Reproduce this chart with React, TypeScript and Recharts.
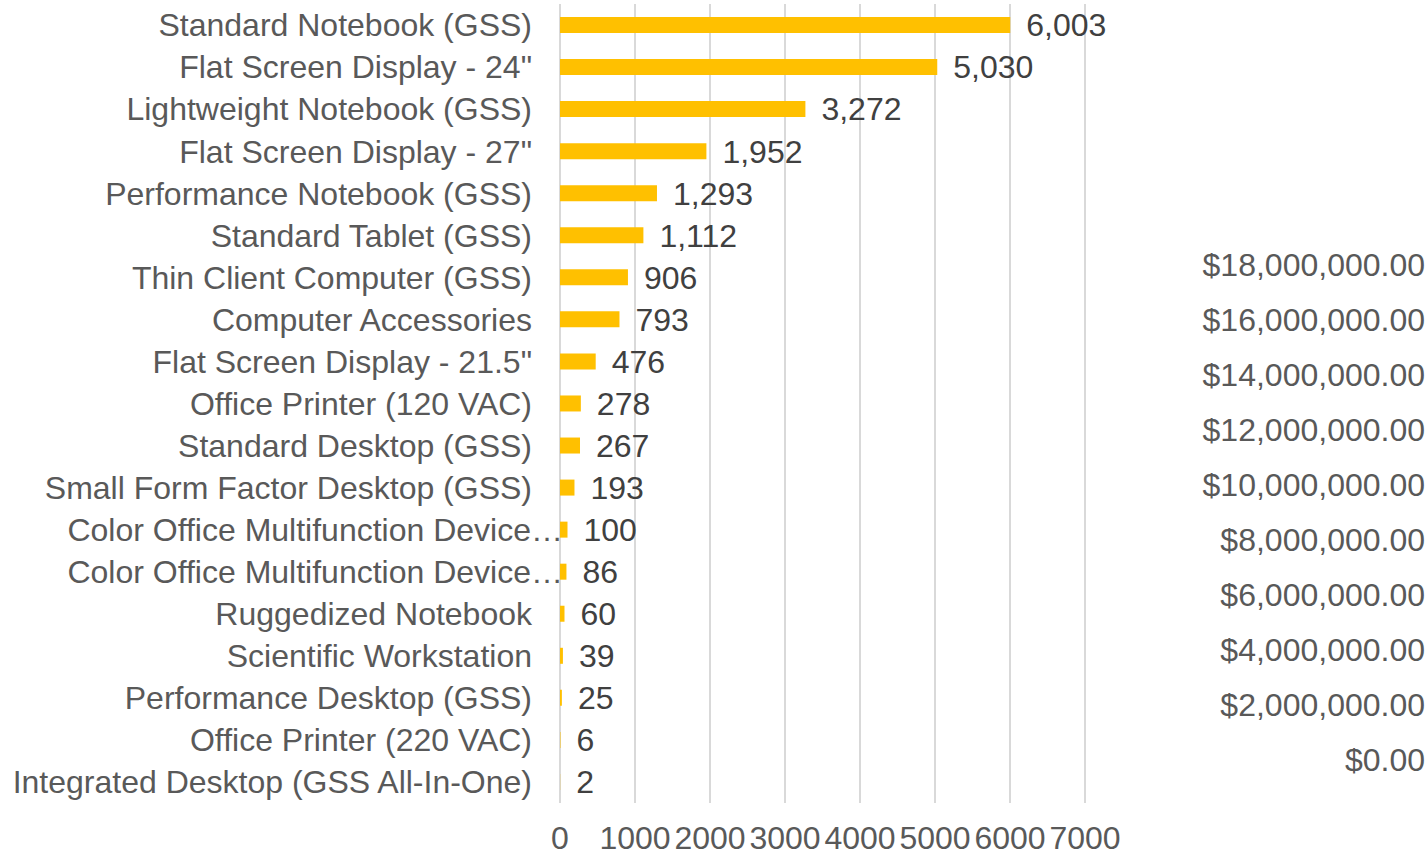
import {
  BarChart,
  Bar,
  LineChart,
  XAxis,
  YAxis,
  CartesianGrid,
  LabelList,
} from "recharts";

const products = [
  "Standard Notebook (GSS)",
  'Flat Screen Display - 24"',
  "Lightweight Notebook (GSS)",
  'Flat Screen Display - 27"',
  "Performance Notebook (GSS)",
  "Standard Tablet (GSS)",
  "Thin Client Computer (GSS)",
  "Computer Accessories",
  'Flat Screen Display - 21.5"',
  "Office Printer (120 VAC)",
  "Standard Desktop (GSS)",
  "Small Form Factor Desktop (GSS)",
  "Color Office Multifunction Device…",
  "Color Office Multifunction Device…",
  "Ruggedized Notebook",
  "Scientific Workstation",
  "Performance Desktop (GSS)",
  "Office Printer (220 VAC)",
  "Integrated Desktop (GSS All-In-One)",
];

const quantities = [
  6003, 5030, 3272, 1952, 1293, 1112, 906, 793, 476, 278, 267, 193, 100, 86,
  60, 39, 25, 6, 2,
];

const qtyTicks = [0, 1000, 2000, 3000, 4000, 5000, 6000, 7000];
const dollarTicks = [
  0, 2000000, 4000000, 6000000, 8000000, 10000000, 12000000, 14000000,
  16000000, 18000000,
];

const data = products.map((name, i) => ({ name, qty: quantities[i] }));

const W = 1428;
const H = 857;
const FONT = "'Liberation Sans', Arial, sans-serif";

const money = (v: number) =>
  "$" +
  v.toLocaleString("en-US", {
    minimumFractionDigits: 2,
    maximumFractionDigits: 2,
  });

function DollarTick(props: any) {
  const { y, payload } = props;
  return (
    <text
      x={W - 3}
      y={y}
      dy="0.355em"
      textAnchor="end"
      fill="#595959"
      fontSize={32}
      fontFamily={FONT}
    >
      {money(payload.value)}
    </text>
  );
}

// Excel lets the clipped labels run past the box, so nudge those right
function ProductTick(props: any) {
  const { x, y, payload } = props;
  const clipped = String(payload.value).endsWith("…");
  return (
    <text
      x={x + (clipped ? 31 : 0)}
      y={y}
      dy="0.355em"
      textAnchor="end"
      fill="#595959"
      fontSize={32}
      fontFamily={FONT}
    >
      {payload.value}
    </text>
  );
}

export default function App() {
  return (
    <div style={{ position: "absolute", left: 0, top: 0, width: W, height: H, background: "#fff" }}>
      <BarChart
        width={W}
        height={H}
        data={data}
        layout="vertical"
        margin={{ top: 4, right: 343, bottom: 0, left: 0 }}
        barCategoryGap={0}
        style={{ fontFamily: FONT }}
      >
        <CartesianGrid horizontal={false} stroke="#d9d9d9" strokeWidth={2} />
        <XAxis
          type="number"
          domain={[0, 7000]}
          ticks={qtyTicks}
          height={54}
          axisLine={false}
          tickLine={false}
          tickSize={0}
          tickMargin={23}
          interval={0}
          tick={{ fill: "#595959", fontSize: 32 }}
        />
        <YAxis
          type="category"
          dataKey="name"
          width={560}
          axisLine={false}
          tickLine={false}
          tickSize={0}
          tickMargin={28}
          interval={0}
          tick={<ProductTick />}
        />
        <Bar dataKey="qty" fill="#ffc000" barSize={16} isAnimationActive={false}>
          <LabelList
            dataKey="qty"
            position="right"
            offset={16}
            fill="#404040"
            fontSize={32}
            formatter={(v: any) => Number(v).toLocaleString("en-US")}
          />
        </Bar>
      </BarChart>
      {/* secondary cost axis, drawn on its own layer */}
      <div style={{ position: "absolute", left: 0, top: 0, pointerEvents: "none" }}>
        <LineChart
          width={W}
          height={H}
          data={data}
          margin={{ top: 4, right: 0, bottom: 54, left: 560 }}
        >
          <XAxis dataKey="name" hide />
          <YAxis
            orientation="right"
            type="number"
            domain={[-1563636, 27490909]}
            allowDataOverflow
            ticks={dollarTicks}
            width={343}
            axisLine={false}
            tickLine={false}
            interval={0}
            tick={<DollarTick />}
          />
        </LineChart>
      </div>
    </div>
  );
}
